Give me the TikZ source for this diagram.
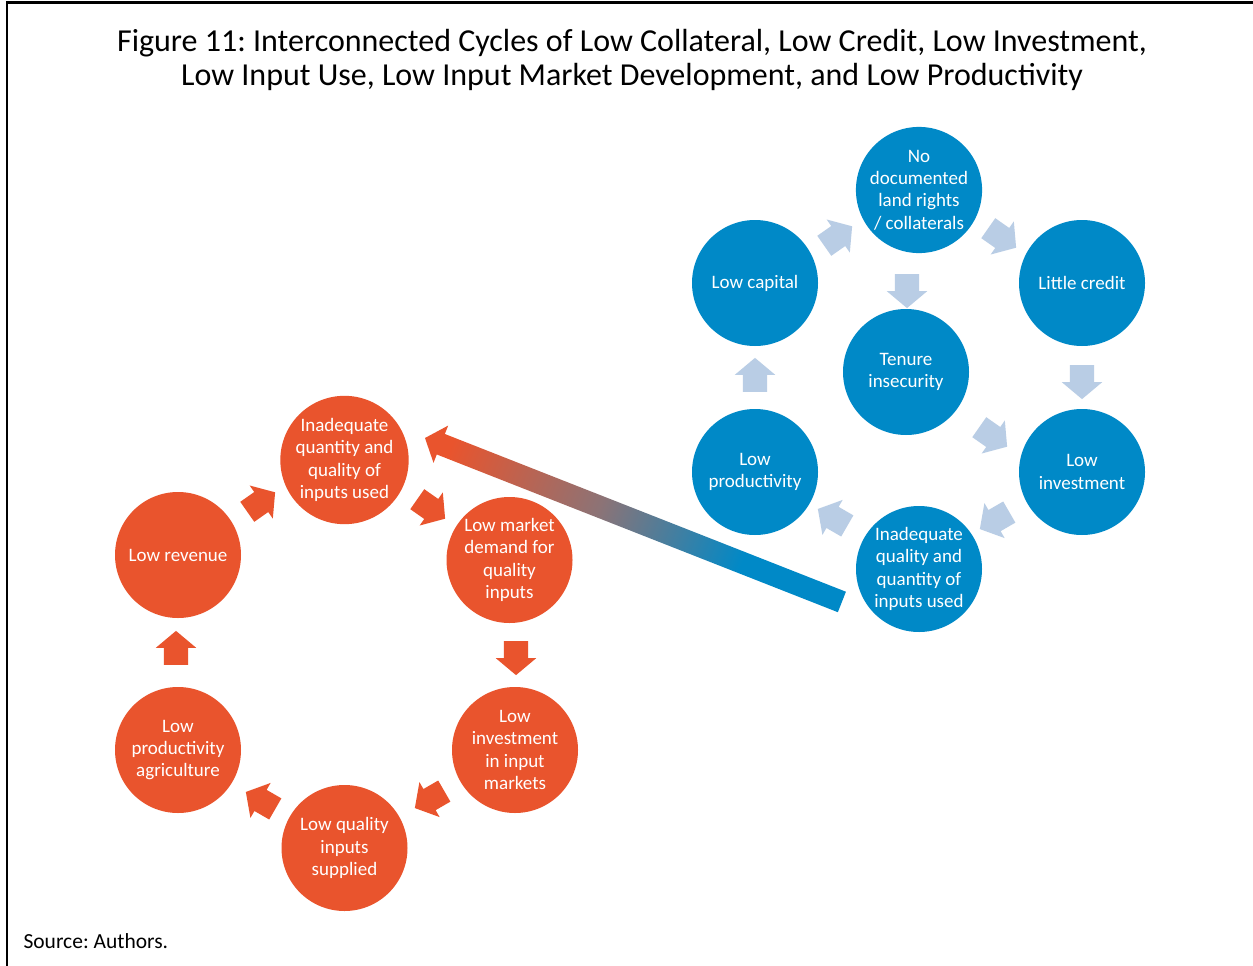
\documentclass[tikz,border=0pt]{standalone}
\usepackage{fontspec}
\setmainfont{Carlito}
\frenchspacing
\usetikzlibrary{shapes.arrows,calc}
\definecolor{cblue}{RGB}{0,137,199}
\definecolor{corange}{RGB}{233,84,45}
\definecolor{clight}{RGB}{185,205,229}
\definecolor{cmauve}{RGB}{140,115,118}
\pgfdeclareverticalshading{bigshade}{100bp}{color(0bp)=(cblue); color(37bp)=(cblue); color(54bp)=(cmauve); color(72bp)=(corange); color(100bp)=(corange)}
\tikzset{
  bcirc/.style={circle, fill=cblue, text=white, minimum size=126pt, inner sep=0pt, align=center, font=\fontsize{19}{22.3}\selectfont},
  ocirc/.style={bcirc, fill=corange},
  barrow/.style={single arrow, minimum height=34pt, minimum width=40pt, single arrow head extend=8pt, single arrow tip angle=100, inner xsep=0pt, inner ysep=12pt, outer sep=0pt},
  larrow/.style={barrow, fill=clight},
  oarrow/.style={barrow, fill=corange},
}
\begin{document}
\begin{tikzpicture}[x=1pt,y=-1pt]
\useasboundingbox (0,0) rectangle (1253,966);
\fill[white] (0,0) rectangle (1253,966);
\draw[line width=2.5pt] (7,966) -- (7,2.5) -- (1253,2.5);

\node[align=center, font=\fontsize{32}{34}\selectfont] (title) at (632,60)
  {Figure 11: Interconnected Cycles of Low Collateral, Low Credit, Low Investment,\\
   Low Input Use, Low Input Market Development, and Low Productivity};

% blue cycle
\node[bcirc] (nodoc) at (919,190) {No\\documented\\land rights\\/ collaterals};
\node[bcirc] (lcap) at (755,283) {Low capital};
\node[bcirc] (lcred) at (1082,283) {Little credit};
\node[bcirc] (tenure) at (906,372) {Tenure\\insecurity};
\node[bcirc] (lprod) at (755,472) {Low\\productivity};
\node[bcirc] (linv) at (1082,472) {Low\\investment};
\node[bcirc] (inadB) at (919,569) {Inadequate\\quality and\\quantity of\\inputs used};

% orange cycle
\node[ocirc] (inadO) at (344.5,460) {Inadequate\\quantity and\\quality of\\inputs used};
\node[ocirc] (lmkt) at (509.5,560) {Low market\\demand for\\quality\\inputs};
\node[ocirc] (linvm) at (515,750) {Low\\investment\\in input\\markets};
\node[ocirc] (lqual) at (344.5,848) {Low quality\\inputs\\supplied};
\node[ocirc] (lagri) at (178,750) {Low\\productivity\\agriculture};
\node[ocirc] (lrev) at (178,555) {Low revenue};

% blue block arrows
\node[larrow, rotate=35] (a1) at (834,239) {};
\node[larrow, rotate=-35] (a2) at (998,235) {};
\node[larrow, rotate=-90] (a3) at (907,286) {};
\node[larrow, rotate=-90] (a4) at (1082,377) {};
\node[larrow, rotate=-35] (a5) at (989,434) {};
\node[larrow, rotate=210] (a6) at (999,518) {};
\node[larrow, rotate=150] (a7) at (837,520) {};
\node[larrow, rotate=90] (a8) at (755,380) {};

% orange block arrows
\node[oarrow, rotate=35] (b1) at (257,505) {};
\node[oarrow, rotate=-35] (b2) at (427,506) {};
\node[oarrow, rotate=-90] (b3) at (516,653) {};
\node[oarrow, rotate=210] (b4) at (434,797) {};
\node[oarrow, rotate=150] (b5) at (265,803) {};
\node[oarrow, rotate=90] (b6) at (176,653) {};

% big gradient arrow from blue cycle to orange cycle
\coordinate (bigtip) at (425,438);
\coordinate (bigend) at (842,602);
\begin{scope}[transform canvas={shift={(bigtip)}, rotate=-21.47}]
  \shade[shading=bigshade, shading angle=90]
    (0,0) -- (17,-20) -- (17,-11) -- (448,-11) -- (448,11) -- (17,11) -- (17,20) -- cycle;
\end{scope}

\node[anchor=west, font=\fontsize{21.5}{24}\selectfont] (src) at (20,941) {Source: Authors.};
\end{tikzpicture}
\end{document}
